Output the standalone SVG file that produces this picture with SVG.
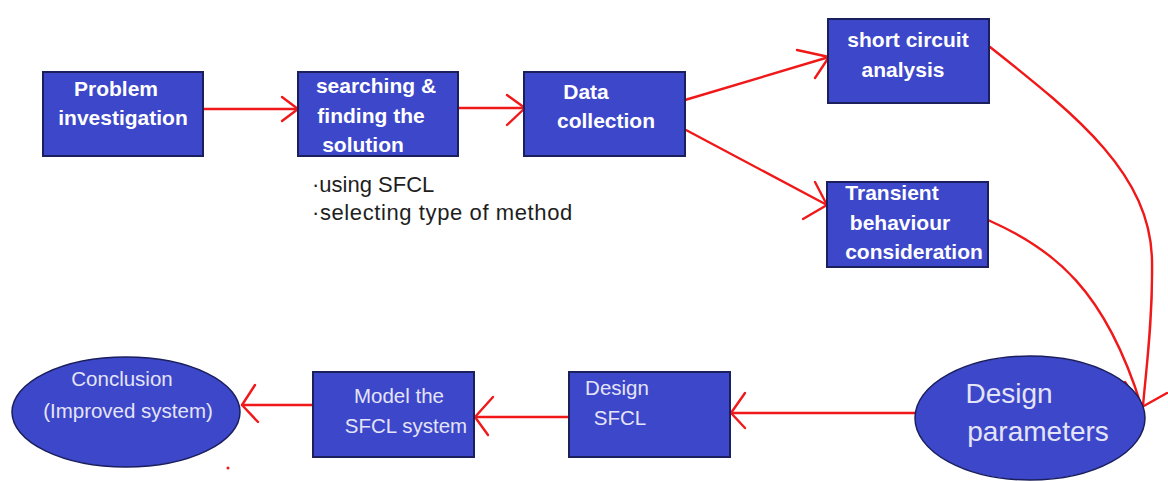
<svg xmlns="http://www.w3.org/2000/svg" width="1168" height="481" viewBox="0 0 1168 481">
  <style>
    .box { fill: #3d47c9; stroke: #1b1f5c; stroke-width: 2; }
    .oval { fill: #3d47c9; stroke: #1b1f5c; stroke-width: 1.5; }
    .bold { font-family: "Liberation Sans", Arial, sans-serif; font-weight: bold; font-size: 21px; fill: #ffffff; text-anchor: middle; }
    .light { font-family: "Liberation Sans", Arial, sans-serif; font-size: 20.5px; fill: #e4e4f8; text-anchor: middle; }
    .note { font-family: "Liberation Sans", Arial, sans-serif; font-size: 22px; fill: #1e1e1e; }
    .wire { fill: none; stroke: #f01818; stroke-width: 2.4; stroke-linecap: round; stroke-linejoin: round; }
  </style>

  <rect width="1168" height="481" fill="#ffffff"/>

  <!-- connectors with hand-drawn open arrowheads -->
  <g id="connectors">
    <path class="wire" d="M203 109 L298 109"/>
    <path class="wire" d="M282 97 L298 109 L282 121"/>

    <path class="wire" d="M458 108 L525 108"/>
    <path class="wire" d="M507 95 L525 108 L507 125"/>

    <path class="wire" d="M685 100 L829 57"/>
    <path class="wire" d="M797 50 L829 57 L815 78"/>

    <path class="wire" d="M686 130 L827 205"/>
    <path class="wire" d="M815 182 L827 205 L803 219"/>

    <path class="wire" d="M990 47 C1080 118, 1150 175, 1152 260 C1153 320, 1146 370, 1143 406"/>
    <path class="wire" d="M988 220 C1055 250, 1105 290, 1141 405"/>
    <path class="wire" d="M1125 382 L1142 407 L1167 393"/>

    <path class="wire" d="M915 413 L731 413"/>
    <path class="wire" d="M745 393 L731 413 L745 428"/>

    <path class="wire" d="M569 417 L475 417"/>
    <path class="wire" d="M493 397 L475 417 L488 435"/>

    <path class="wire" d="M313 405 L242 405"/>
    <path class="wire" d="M255 385 L242 405 L258 422"/>

    <circle cx="228" cy="468" r="1.5" fill="#f01818"/>
  </g>

  <g id="problem">
    <rect class="box" x="43" y="72" width="160" height="84"/>
    <text class="bold" x="116" y="96">Problem</text>
    <text class="bold" x="123" y="125">investigation</text>
  </g>

  <g id="searching">
    <rect class="box" x="298" y="72" width="160" height="84"/>
    <text class="bold" x="376" y="93">searching &amp;</text>
    <text class="bold" x="371" y="123">finding the</text>
    <text class="bold" x="363" y="152">solution</text>
  </g>

  <g id="notes">
    <text class="note" x="312" y="192">·using SFCL</text>
    <text class="note" x="312" y="220" letter-spacing="0.6">·selecting type of method</text>
  </g>

  <g id="data">
    <rect class="box" x="524" y="72" width="161" height="84"/>
    <text class="bold" x="586" y="99">Data</text>
    <text class="bold" x="606" y="128">collection</text>
  </g>

  <g id="short-circuit">
    <rect class="box" x="828" y="19" width="161" height="84"/>
    <text class="bold" x="908" y="47">short circuit</text>
    <text class="bold" x="903" y="77">analysis</text>
  </g>

  <g id="transient">
    <rect class="box" x="827" y="182" width="161" height="85"/>
    <text class="bold" x="892" y="200">Transient</text>
    <text class="bold" x="900" y="230">behaviour</text>
    <text class="bold" x="914" y="259">consideration</text>
  </g>

  <g id="design-parameters">
    <ellipse class="oval" cx="1030" cy="418" rx="115" ry="62"/>
    <text class="light" x="1009" y="403" style="font-size:28px">Design</text>
    <text class="light" x="1038" y="441" style="font-size:28px">parameters</text>
  </g>

  <g id="design-sfcl">
    <rect class="box" x="569" y="372" width="161" height="85"/>
    <text class="light" x="617" y="395">Design</text>
    <text class="light" x="620" y="425">SFCL</text>
  </g>

  <g id="model">
    <rect class="box" x="313" y="372" width="161" height="85"/>
    <text class="light" x="399" y="403">Model the</text>
    <text class="light" x="406" y="433">SFCL system</text>
  </g>

  <g id="conclusion">
    <ellipse class="oval" cx="126" cy="412" rx="114" ry="55"/>
    <text class="light" x="122" y="386">Conclusion</text>
    <text class="light" x="128" y="418">(Improved system)</text>
  </g>
</svg>
